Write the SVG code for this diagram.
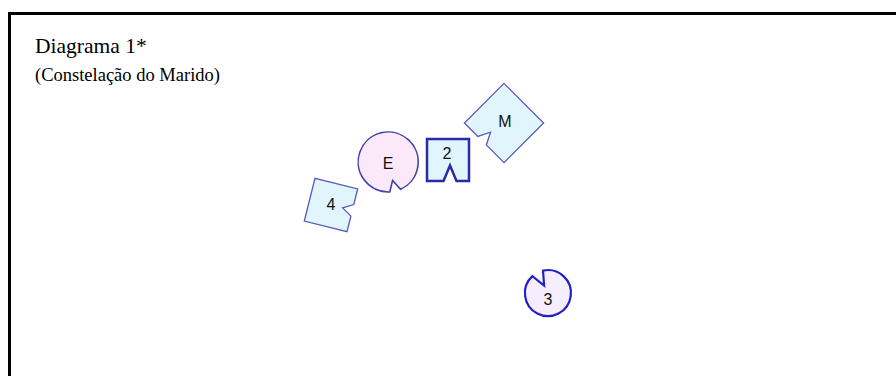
<svg xmlns="http://www.w3.org/2000/svg" width="896" height="376" viewBox="0 0 896 376">
<style>
.frame{fill:none;stroke:#000;stroke-width:3}
.title{font-family:"Liberation Serif",serif;fill:#000}
.lbl{font-family:"Liberation Sans",Arial,sans-serif;font-size:16px;fill:#111;text-anchor:middle;dominant-baseline:central}
.sq{fill:#e0f6fc;stroke:#5a5ab8;stroke-width:1.3}
.sqb{fill:#e0f6fc;stroke:#2b2ba8;stroke-width:2.5}
.ci{fill:#fbe9fa;stroke:#4040a8;stroke-width:1.6}
.cib{fill:#f6eefc;stroke:#2020c8;stroke-width:2.2}
</style>
<rect width="896" height="376" fill="#fff"/>
<rect class="frame" x="9.5" y="13.5" width="900" height="400"/>
<text class="title" x="35" y="53" font-size="21.5">Diagrama 1*</text>
<text class="title" x="35" y="81" font-size="18.5">(Constelação do Marido)</text>
<g id="connectors"></g>
<g id="node-M">
<path class="sq" transform="translate(504,123) rotate(45)" d="M -28 -28 L 28 -28 L 28 28 L 3 28 L -3 16 L -9 28 L -28 28 Z"/>
<text class="lbl" x="505" y="121">M</text>
</g>
<g id="node-2">
<path class="sqb" transform="translate(448,160)" d="M -21 -21 L 21 -21 L 21 21 L 8.5 21 L 2 5.5 L -4.5 21 L -21 21 Z"/>
<text class="lbl" x="447" y="153">2</text>
</g>
<g id="node-E">
<path class="ci" d="M 389.8 191.9 A 30 30 0 1 1 400.5 189.3 L 392.6 180.4 Z"/>
<text class="lbl" x="388" y="163">E</text>
</g>
<g id="node-4">
<path class="sq" transform="translate(331,205) rotate(-76)" d="M -22 -22 L 22 -22 L 22 22 L 6 22 L 0 12 L -6 22 L -22 22 Z"/>
<text class="lbl" x="331" y="204">4</text>
</g>
<g id="node-3">
<path class="cib" d="M 543.0 270.6 A 23 23 0 1 1 532.4 276.1 L 544.1 285.5 Z"/>
<text class="lbl" x="548" y="299">3</text>
</g>
</svg>
